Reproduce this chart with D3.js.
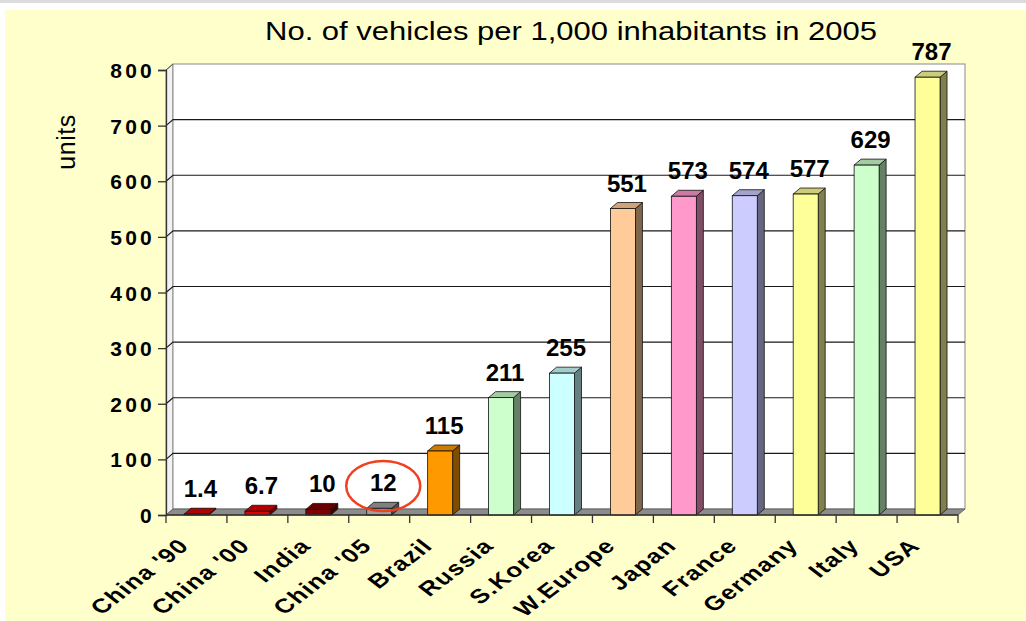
<!DOCTYPE html>
<html>
<head>
<meta charset="utf-8">
<script src="https://cdn.jsdelivr.net/npm/d3@7"></script>
<style>
  html, body { margin: 0; padding: 0; background: #fff; }
  svg { display: block; }
  text { font-family: "Liberation Sans", Arial, sans-serif; }
</style>
</head>
<body>
<svg id="chart" width="1026" height="621"></svg>
<script>
const categories = ["China '90", "China '00", "India", "China '05", "Brazil", "Russia", "S.Korea", "W.Europe", "Japan", "France", "Germany", "Italy", "USA"];
const values = [1.4, 6.7, 10, 12, 115, 211, 255, 551, 573, 574, 577, 629, 787];
const valueLabels = ["1.4", "6.7", "10", "12", "115", "211", "255", "551", "573", "574", "577", "629", "787"];
const barColors = ["#e00000", "#e00000", "#800000", "#a0a0a0", "#ff9900", "#ccffcc", "#ccffff", "#ffcc99", "#ff99cc", "#ccccff", "#ffff99", "#ccffcc", "#ffff99"];
const yTicks = [0, 100, 200, 300, 400, 500, 600, 700, 800];
const titleText = "No. of vehicles per 1,000 inhabitants in 2005";
const yAxisTitle = "units";
const highlighted = "China '05";

const svg = d3.select("#chart");
const W = 1026, H = 621;

// background
svg.append("rect").attr("x", 0).attr("y", 0).attr("width", W).attr("height", H).attr("fill", "#ffffff");
svg.append("rect").attr("x", 0).attr("y", 0).attr("width", W).attr("height", 3).attr("fill", "#dcdcdc");
svg.append("rect").attr("x", 5).attr("y", 10).attr("width", W - 5).attr("height", H - 10).attr("fill", "#ffffcc");

const x0 = 166, x1 = 958;
const dx = 7, dy = -6;
const x = d3.scaleBand().domain(categories).range([x0, x1]).paddingInner(0).paddingOuter(0);
const y = d3.scaleLinear().domain([0, 800]).range([515, 70]);

const g = svg.append("g");

// left wall
g.append("path")
  .attr("d", `M${x0},${y(0)} L${x0},${y(800)} L${x0+dx},${y(800)+dy} L${x0+dx},${y(0)+dy} Z`)
  .attr("fill", "#f2f2f2").attr("stroke", "#8a8a8a").attr("stroke-width", 1);
// back wall
g.append("rect")
  .attr("x", x0 + dx).attr("y", y(800) + dy)
  .attr("width", x1 - x0).attr("height", y(0) - y(800))
  .attr("fill", "#ffffff").attr("stroke", "#8a8a8a").attr("stroke-width", 1);

// gridlines
g.selectAll(".grid").data(yTicks.filter(d => d > 0 && d < 800)).join("path")
  .attr("class", "grid")
  .attr("d", d => `M${x0},${y(d)} L${x0+dx},${y(d)+dy} L${x1+dx},${y(d)+dy}`)
  .attr("fill", "none").attr("stroke", "#1a1a1a").attr("stroke-width", 1.2);
g.append("path")
  .attr("d", `M${x0},${y(800)} L${x0+dx},${y(800)+dy}`)
  .attr("stroke", "#555").attr("stroke-width", 1);

// floor
g.append("path")
  .attr("d", `M${x0},${y(0)} L${x0+dx},${y(0)+dy} L${x1+dx},${y(0)+dy} L${x1},${y(0)} Z`)
  .attr("fill", "#8c8c8c").attr("stroke", "#555").attr("stroke-width", 0.8);

// y axis
const yAxis = d3.axisLeft(y).tickValues(yTicks).tickSize(8).tickPadding(3).tickFormat(d3.format("d"));
const ya = svg.append("g").attr("transform", `translate(${x0},0)`).call(yAxis);
ya.select(".domain").attr("stroke", "#333").attr("stroke-width", 1.3);
ya.selectAll(".tick line").attr("stroke", "#333").attr("stroke-width", 1.3);
ya.selectAll(".tick text")
  .attr("font-family", "'Liberation Sans', Arial, sans-serif")
  .attr("font-size", 21).attr("font-weight", "bold").attr("fill", "#000")
  .attr("letter-spacing", 3.2)
  .attr("dy", "0.36em");

// x boundary ticks
svg.selectAll(".xtick").data(d3.range(categories.length + 1)).join("line")
  .attr("class", "xtick")
  .attr("x1", i => x0 + i * x.step()).attr("x2", i => x0 + i * x.step())
  .attr("y1", y(0)).attr("y2", y(0) + 8)
  .attr("stroke", "#333").attr("stroke-width", 1.3);
svg.append("line").attr("x1", x0).attr("x2", x1).attr("y1", y(0)).attr("y2", y(0))
  .attr("stroke", "#333").attr("stroke-width", 1.3);

// bars
const bw = 25;
const shade = (c, k) => { const r = d3.rgb(c); return d3.rgb(r.r * k, r.g * k, r.b * k).toString(); };
const bars = g.selectAll(".bar").data(categories.map((c, i) => ({c, v: values[i], col: barColors[i], lab: valueLabels[i]}))).join("g").attr("class", "bar");
bars.each(function(d) {
  const b = d3.select(this);
  const cx = x(d.c) + x.bandwidth() / 2;
  const xl = cx - bw / 2, xr = cx + bw / 2;
  const yt = y(d.v), yb = y(0);
  // side
  b.append("path")
    .attr("d", `M${xr},${yb} L${xr},${yt} L${xr+dx},${yt+dy} L${xr+dx},${yb+dy} Z`)
    .attr("fill", shade(d.col, 0.5)).attr("stroke", "#111").attr("stroke-width", 0.8).attr("stroke-linejoin", "round");
  // top
  b.append("path")
    .attr("d", `M${xl},${yt} L${xl+dx},${yt+dy} L${xr+dx},${yt+dy} L${xr},${yt} Z`)
    .attr("fill", shade(d.col, 0.8)).attr("stroke", "#111").attr("stroke-width", 0.8).attr("stroke-linejoin", "round");
  // front
  b.append("rect")
    .attr("x", xl).attr("y", yt).attr("width", bw).attr("height", yb - yt)
    .attr("fill", d.col).attr("stroke", "#111").attr("stroke-width", 0.8);
  // label
  svg.append("text")
    .attr("x", cx + 4).attr("y", yt - 17)
    .attr("text-anchor", "middle")
    .attr("font-size", 24).attr("font-weight", "bold").attr("fill", "#000")
    .text(d.lab);
});

// x labels via axisBottom
const xAxis = d3.axisBottom(x).tickSize(0).tickPadding(0);
const xa = svg.append("g").attr("transform", `translate(0,${y(0)})`).call(xAxis);
xa.select(".domain").remove();
xa.selectAll(".tick text")
  .attr("font-family", "'Liberation Sans', Arial, sans-serif")
  .attr("font-size", 20).attr("font-weight", "bold").attr("fill", "#000")
  .attr("letter-spacing", 1)
  .attr("text-anchor", "end")
  .attr("dy", 0)
  .attr("transform", "translate(-6,32) scale(1.3,1) rotate(-45)");

// highlight ellipse
const hx = x(highlighted) + x.bandwidth() / 2;
svg.append("ellipse")
  .attr("cx", hx + 4).attr("cy", y(0) - 29)
  .attr("rx", 37).attr("ry", 25)
  .attr("fill", "none").attr("stroke", "#f04020").attr("stroke-width", 2.5);

// title
svg.append("text")
  .attr("x", 265).attr("y", 40)
  .attr("font-size", 25).attr("fill", "#000")
  .attr("textLength", 612).attr("lengthAdjust", "spacingAndGlyphs")
  .text(titleText);

// y axis title
svg.append("text")
  .attr("transform", "translate(75,142) rotate(-90)")
  .attr("text-anchor", "middle")
  .attr("font-size", 25).attr("fill", "#000")
  .attr("letter-spacing", 0.5)
  .text(yAxisTitle);
</script>
</body>
</html>
